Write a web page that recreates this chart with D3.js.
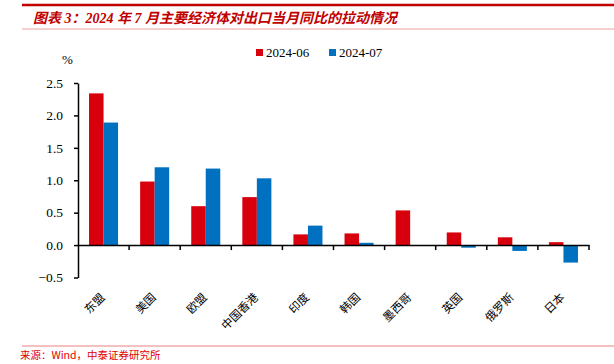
<!DOCTYPE html>
<html><head><meta charset="utf-8">
<script src="https://cdn.jsdelivr.net/npm/d3@7"></script>
<style>body{margin:0;background:#fff}svg{display:block}</style>
</head><body>
<script>
const categories = ["东盟","美国","欧盟","中国香港","印度","韩国","墨西哥","英国","俄罗斯","日本"];
const series = ["2024-06","2024-07"];
const values0606 = [2.34,0.98,0.60,0.74,0.165,0.18,0.535,0.195,0.12,0.045];
const values0707 = [1.89,1.20,1.18,1.03,0.30,0.035,0.0,-0.04,-0.09,-0.27];
const yTicks = [-0.5,0,0.5,1,1.5,2,2.5];
const colors = ["#D9000D","#0070C0"];
const title = "图表 3：2024 年 7 月主要经济体对出口当月同比的拉动情况";
const source = "来源：Wind，中泰证券研究所";

const W=614,H=364;
const svg=d3.select("body").append("svg").attr("width",W).attr("height",H);
const serif="'Liberation Serif','Times New Roman',serif";
const cjk="'Noto Sans CJK SC',sans-serif";

// header
svg.append("line").attr("x1",22).attr("x2",614).attr("y1",5).attr("y2",5).attr("stroke","#C00000").attr("stroke-width",2.5);
svg.append("line").attr("x1",22).attr("x2",614).attr("y1",29).attr("y2",29).attr("stroke","#E8A0A0").attr("stroke-width",1);
svg.append("text").attr("x",33).attr("y",23).attr("fill","#C00000").attr("font-size",14).attr("font-weight","bold").attr("font-style","italic")
  .attr("font-family",serif+","+cjk).text(title);

// footer
svg.append("line").attr("x1",22).attr("x2",614).attr("y1",346).attr("y2",346).attr("stroke","#E88080").attr("stroke-width",1);
svg.append("text").attr("x",20).attr("y",359).attr("fill","#E00000").attr("font-size",10.5).attr("font-family",cjk).text(source);

const x=d3.scaleBand().domain(categories).range([78,589]).paddingInner(0).paddingOuter(0);
const xs=d3.scaleBand().domain(series).range([0,x.bandwidth()]).paddingOuter(0.76).paddingInner(0);
const y=d3.scaleLinear().domain([-0.5,2.5]).range([277.5,83]);

// bars
const data=[values0606,values0707];
series.forEach((s,si)=>{
  svg.append("g").selectAll("rect").data(categories).join("rect")
    .attr("x",c=>x(c)+xs(s))
    .attr("width",xs.bandwidth())
    .attr("y",(c,i)=>y(Math.max(0,data[si][i])))
    .attr("height",(c,i)=>Math.abs(y(data[si][i])-y(0)))
    .attr("fill",colors[si]);
});

// y axis
const ya=svg.append("g").attr("transform","translate(78,0)")
  .call(d3.axisLeft(y).tickValues(yTicks).tickFormat(d3.format(".1f")).tickSize(4).tickSizeOuter(0));
ya.select(".domain").attr("stroke","#000").attr("stroke-width",1.5);
ya.selectAll(".tick line").attr("stroke","#000").attr("stroke-width",1.5);
ya.selectAll("text").attr("font-family",serif).attr("font-size",13.5).attr("fill","#000").attr("x",-15);
svg.append("text").attr("x",62).attr("y",64).attr("font-family",serif).attr("font-size",13).text("%");

// x axis at zero
const xa=svg.append("g").attr("transform",`translate(0,${y(0)})`)
  .call(d3.axisBottom(x).tickValues([]).tickSizeOuter(0));
xa.select(".domain").attr("stroke","#000").attr("stroke-width",1.5);
const tickPos=d3.range(categories.length+1).map(i=>78+i*x.step());
svg.append("g").selectAll("line").data(tickPos.slice(1)).join("line")
  .attr("x1",d=>d).attr("x2",d=>d).attr("y1",y(0)).attr("y2",y(0)+5).attr("stroke","#000").attr("stroke-width",1.5);

// x labels
svg.append("g").selectAll("text").data(categories).join("text")
  .attr("transform",c=>`translate(${x(c)+x.bandwidth()/2+2},${298}) rotate(-45)`)
  .attr("text-anchor","end").attr("font-family",cjk).attr("font-size",11.5).attr("fill","#000").text(c=>c);

// legend
const lg=svg.append("g");
const lx=[256,329];
series.forEach((s,i)=>{
  lg.append("rect").attr("x",lx[i]).attr("y",49).attr("width",7).attr("height",7).attr("fill",colors[i]);
  lg.append("text").attr("x",lx[i]+10).attr("y",57).attr("font-family",serif).attr("font-size",13).text(s);
});
</script>
</body></html>
